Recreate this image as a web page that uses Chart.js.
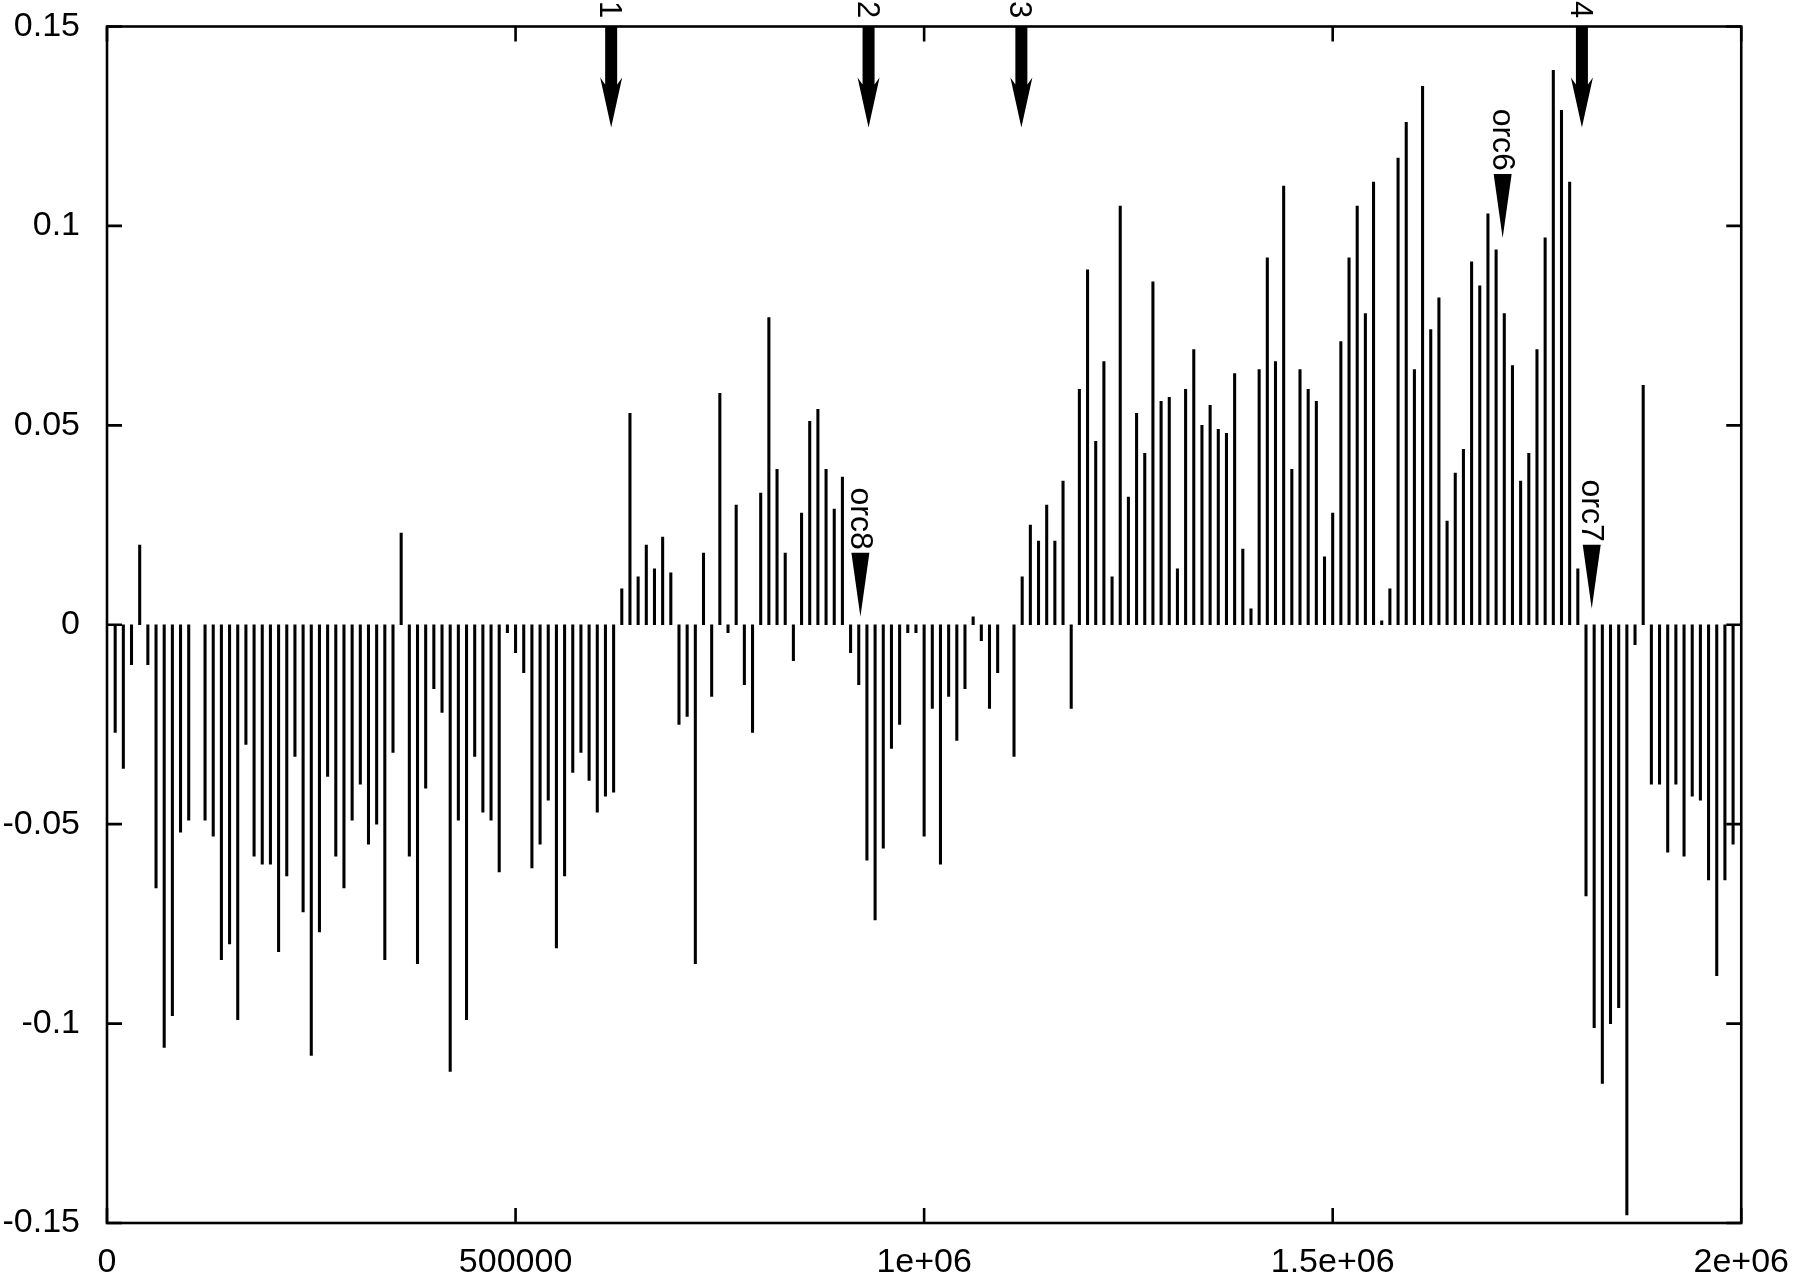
<!DOCTYPE html>
<html>
<head>
<meta charset="utf-8">
<script src="https://cdn.jsdelivr.net/npm/chart.js@4.4.1/dist/chart.umd.min.js"></script>
<style>
  html, body { margin: 0; padding: 0; background: #fff; }
  #wrap { width: 1800px; height: 1277px; }
</style>
</head>
<body>
<div id="wrap"><canvas id="chart" width="1800" height="1277"></canvas></div>
<script>
// one bar per 10 kb window, first window at 10 kb (null = no bar)
const binStep = 10000;
const values = [
  -0.027, -0.036, -0.010, 0.020, -0.010, -0.066, -0.106, -0.098, -0.052, -0.049,
  null, -0.049, -0.053, -0.084, -0.080, -0.099, -0.030, -0.058, -0.060, -0.060,
  -0.082, -0.063, -0.033, -0.072, -0.108, -0.077, -0.038, -0.058, -0.066, -0.049,
  -0.040, -0.055, -0.050, -0.084, -0.032, 0.023, -0.058, -0.085, -0.041, -0.016,
  -0.022, -0.112, -0.049, -0.099, -0.033, -0.047, -0.049, -0.062, -0.002, -0.007,
  -0.012, -0.061, -0.055, -0.044, -0.081, -0.063, -0.037, -0.032, -0.039, -0.047,
  -0.043, -0.042, 0.009, 0.053, 0.012, 0.020, 0.014, 0.022, 0.013, -0.025,
  -0.023, -0.085, 0.018, -0.018, 0.058, -0.002, 0.030, -0.015, -0.027, 0.033,
  0.077, 0.039, 0.018, -0.009, 0.028, 0.051, 0.054, 0.039, 0.029, 0.037,
  -0.007, -0.015, -0.059, -0.074, -0.056, -0.031, -0.025, -0.002, -0.002, -0.053,
  -0.021, -0.060, -0.018, -0.029, -0.016, 0.002, -0.004, -0.021, -0.012, null,
  -0.033, 0.012, 0.025, 0.021, 0.030, 0.021, 0.036, -0.021, 0.059, 0.089,
  0.046, 0.066, 0.012, 0.105, 0.032, 0.053, 0.043, 0.086, 0.056, 0.057,
  0.014, 0.059, 0.069, 0.050, 0.055, 0.049, 0.048, 0.063, 0.019, 0.004,
  0.064, 0.092, 0.066, 0.110, 0.039, 0.064, 0.059, 0.056, 0.017, 0.028,
  0.071, 0.092, 0.105, 0.078, 0.111, 0.001, 0.009, 0.117, 0.126, 0.064,
  0.135, 0.074, 0.082, 0.026, 0.038, 0.044, 0.091, 0.085, 0.103, 0.094,
  0.078, 0.065, 0.036, 0.043, 0.069, 0.097, 0.139, 0.129, 0.111, 0.014,
  -0.068, -0.101, -0.115, -0.100, -0.096, -0.148, -0.005, 0.060, -0.040, -0.040,
  -0.057, -0.040, -0.058, -0.043, -0.044, -0.064, -0.088, -0.064, -0.055
];

const xTickValues = [0, 500000, 1000000, 1500000, 2000000];
const xTickLabels = ['0', '500000', '1e+06', '1.5e+06', '2e+06'];
const yTickLabels = ['-0.15', '-0.1', '-0.05', '0', '0.05', '0.1', '0.15'];

// numbered arrows along the top
const markLabels = ['1', '2', '3', '4'];
const markPositions = [617000, 932000, 1119000, 1805000];

// orc labels with their pointer tips
const orcLabels = ['orc8', 'orc6', 'orc7'];
const orcPositions = [922000, 1708000, 1817000];
const orcTips = [0.002, 0.097, 0.004];

const FONT = '"Liberation Sans", Arial, Helvetica, sans-serif';
const yTickValues = yTickLabels.map(Number);

const points = [];
values.forEach((v, i) => {
    if (v !== null) points.push({ x: (i + 1) * binStep, y: v });
});

// rotated text reading downwards, glyphs centred on cx
function downText(ctx, text, cx, top, capH) {
    ctx.save();
    ctx.translate(cx, top);
    ctx.rotate(Math.PI / 2);
    ctx.textAlign = 'left';
    ctx.textBaseline = 'alphabetic';
    ctx.fillText(text, 0, capH / 2);
    ctx.restore();
}

// frame, mirrored inward ticks and annotations
const decorations = {
    id: 'decorations',
    afterDatasetsDraw(chart) {
        const { ctx, chartArea: a, scales: { x, y } } = chart;
        const tick = 15;
        ctx.save();
        ctx.strokeStyle = '#000';
        ctx.fillStyle = '#000';
        ctx.lineWidth = 2.6;
        ctx.strokeRect(a.left, a.top, a.right - a.left, a.bottom - a.top);

        ctx.beginPath();
        xTickValues.forEach(v => {
            const px = x.getPixelForValue(v);
            ctx.moveTo(px, a.bottom); ctx.lineTo(px, a.bottom - tick);
            ctx.moveTo(px, a.top); ctx.lineTo(px, a.top + tick);
        });
        yTickValues.forEach(v => {
            const py = y.getPixelForValue(v);
            ctx.moveTo(a.left, py); ctx.lineTo(a.left + tick, py);
            ctx.moveTo(a.right, py); ctx.lineTo(a.right - tick, py);
        });
        ctx.stroke();

        // big arrows hanging from the top border
        ctx.font = '31px ' + FONT;
        markPositions.forEach((pos, i) => {
            const px = x.getPixelForValue(pos);
            const top = a.top;
            ctx.beginPath();
            ctx.moveTo(px - 6, top);
            ctx.lineTo(px - 6, top + 58);
            ctx.lineTo(px - 11, top + 51);
            ctx.lineTo(px, top + 101);
            ctx.lineTo(px + 11, top + 51);
            ctx.lineTo(px + 6, top + 58);
            ctx.lineTo(px + 6, top);
            ctx.closePath();
            ctx.fill();
            downText(ctx, markLabels[i], px, 1, 22);
        });

        // orc pointers: text reading downwards, then a filled triangle
        ctx.font = '32px ' + FONT;
        orcPositions.forEach((pos, i) => {
            const px = x.getPixelForValue(pos);
            const tipY = y.getPixelForValue(orcTips[i]);
            const triTop = tipY - 64;
            ctx.beginPath();
            ctx.moveTo(px - 9, triTop);
            ctx.lineTo(px + 9, triTop);
            ctx.lineTo(px, tipY);
            ctx.closePath();
            ctx.fill();
            const w = ctx.measureText(orcLabels[i]).width;
            downText(ctx, orcLabels[i], px + 2, triTop - 3 - w, 23);
        });
        ctx.restore();
    }
};

const ctx = document.getElementById('chart').getContext('2d');
new Chart(ctx, {
    type: 'bar',
    data: {
        datasets: [{
            data: points,
            backgroundColor: '#000',
            borderWidth: 0,
            barThickness: 2.4,
            grouped: false
        }]
    },
    options: {
        responsive: false,
        animation: false,
        layout: { padding: { top: 26.5, right: 52, left: 0, bottom: 0 } },
        plugins: {
            legend: { display: false },
            tooltip: { enabled: false }
        },
        scales: {
            x: {
                type: 'linear',
                min: 0,
                max: 2000000,
                offset: false,
                afterBuildTicks: s => { s.ticks = xTickValues.map(v => ({ value: v })); },
                afterFit: s => { s.height = 54; },
                grid: { display: false, offset: false },
                border: { display: false },
                ticks: {
                    autoSkip: false,
                    maxRotation: 0,
                    padding: 11,
                    color: '#000',
                    font: { family: FONT, size: 34 },
                    callback: (v, i) => xTickLabels[i]
                }
            },
            y: {
                type: 'linear',
                min: -0.15,
                max: 0.15,
                afterBuildTicks: s => { s.ticks = yTickValues.map(v => ({ value: v })); },
                afterFit: s => { s.width = 107; },
                grid: { display: false, drawTicks: true, tickLength: 24 },
                border: { display: false },
                ticks: {
                    padding: 3,
                    color: '#000',
                    font: { family: FONT, size: 34 },
                    callback: (v, i) => yTickLabels[i]
                }
            }
        }
    },
    plugins: [decorations]
});
</script>
</body>
</html>
